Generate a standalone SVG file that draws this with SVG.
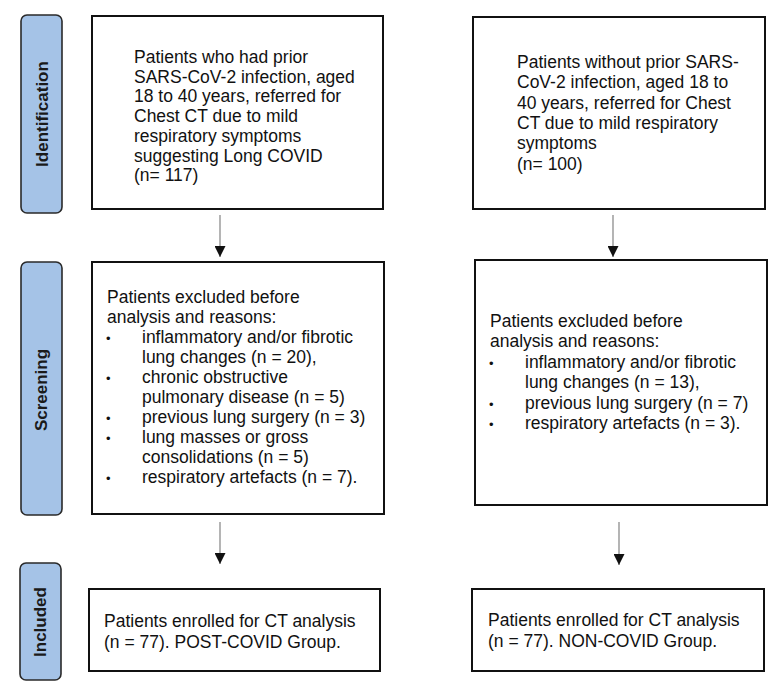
<svg xmlns="http://www.w3.org/2000/svg" width="779" height="693" viewBox="0 0 779 693">
<defs>
<style>
.tab{fill:#a5c3e7;stroke:#2a2a2a;stroke-width:1.6}
.tabt{font-family:"Liberation Sans",Arial,sans-serif;font-weight:bold;font-size:17px;fill:#1a1a1a;text-anchor:middle}
.box{fill:#fff;stroke:#111;stroke-width:2}
.t{font-family:"Liberation Sans",Arial,sans-serif;font-size:17.5px;fill:#111}
.b{font-family:"Liberation Sans",Arial,sans-serif;font-size:13px;fill:#111}
.conn{stroke:#777;stroke-width:1.1;fill:none}
</style>
<marker id="ah" markerUnits="userSpaceOnUse" markerWidth="11" markerHeight="11" refX="11" refY="5.5" orient="auto">
<path d="M0,0 L11,5.5 L0,11 z" fill="#111"/>
</marker>
</defs>
<rect width="779" height="693" fill="#fff"/>

<g id="tab-identification">
<rect class="tab" x="21" y="15" width="41" height="198" rx="6"/>
<text class="tabt" transform="translate(48,114) rotate(-90)">Identification</text>
</g>
<g id="tab-screening">
<rect class="tab" x="21" y="262" width="41" height="253" rx="6"/>
<text class="tabt" transform="translate(47,390) rotate(-90)">Screening</text>
</g>
<g id="tab-included">
<rect class="tab" x="20" y="563" width="41" height="117" rx="6"/>
<text class="tabt" transform="translate(46,622) rotate(-90)">Included</text>
</g>

<g id="box-left-1">
<rect class="box" x="92" y="16" width="291" height="193"/>
<text class="t" x="134" y="63">Patients who had prior</text>
<text class="t" x="134" y="82.7">SARS-CoV-2 infection, aged</text>
<text class="t" x="134" y="102.4">18 to 40 years, referred for</text>
<text class="t" x="134" y="122.1">Chest CT due to mild</text>
<text class="t" x="134" y="141.8">respiratory symptoms</text>
<text class="t" x="134" y="161.5">suggesting Long COVID</text>
<text class="t" x="134" y="181.2">(n= 117)</text>
</g>

<g id="box-right-1">
<rect class="box" x="473" y="17" width="292" height="192"/>
<text class="t" x="517" y="68">Patients without prior SARS-</text>
<text class="t" x="517" y="88.3">CoV-2 infection, aged 18 to</text>
<text class="t" x="517" y="108.6">40 years, referred for Chest</text>
<text class="t" x="517" y="128.9">CT due to mild respiratory</text>
<text class="t" x="517" y="149.2">symptoms</text>
<text class="t" x="517" y="169.5">(n= 100)</text>
</g>

<g id="box-left-2">
<rect class="box" x="92" y="262" width="292" height="252"/>
<text class="t" x="107" y="303">Patients excluded before</text>
<text class="t" x="107" y="323">analysis and reasons:</text>
<text class="b" x="106" y="343">•</text>
<text class="t" x="142" y="343">inflammatory and/or fibrotic</text>
<text class="t" x="142" y="363">lung changes (n = 20),</text>
<text class="b" x="106" y="383">•</text>
<text class="t" x="142" y="383">chronic obstructive</text>
<text class="t" x="142" y="403">pulmonary disease (n = 5)</text>
<text class="b" x="106" y="423">•</text>
<text class="t" x="142" y="423">previous lung surgery (n = 3)</text>
<text class="b" x="106" y="443">•</text>
<text class="t" x="142" y="443">lung masses or gross</text>
<text class="t" x="142" y="463">consolidations (n = 5)</text>
<text class="b" x="106" y="483">•</text>
<text class="t" x="142" y="483">respiratory artefacts (n = 7).</text>
</g>

<g id="box-right-2">
<rect class="box" x="475" y="260" width="292" height="245"/>
<text class="t" x="490" y="327">Patients excluded before</text>
<text class="t" x="490" y="347.4">analysis and reasons:</text>
<text class="b" x="489" y="367.8">•</text>
<text class="t" x="525" y="367.8">inflammatory and/or fibrotic</text>
<text class="t" x="525" y="388.2">lung changes (n = 13),</text>
<text class="b" x="489" y="408.6">•</text>
<text class="t" x="525" y="408.6">previous lung surgery (n = 7)</text>
<text class="b" x="489" y="429">•</text>
<text class="t" x="525" y="429">respiratory artefacts (n = 3).</text>
</g>

<g id="box-left-3">
<rect class="box" x="89" y="589" width="291" height="82"/>
<text class="t" x="104" y="627">Patients enrolled for CT analysis</text>
<text class="t" x="104" y="647.5">(n = 77). POST-COVID Group.</text>
</g>

<g id="box-right-3">
<rect class="box" x="472" y="589" width="292" height="82"/>
<text class="t" x="488" y="626">Patients enrolled for CT analysis</text>
<text class="t" x="488" y="646.5">(n = 77). NON-COVID Group.</text>
</g>

<g id="connectors">
<line class="conn" x1="220" y1="215" x2="220" y2="257" marker-end="url(#ah)"/>
<line class="conn" x1="613" y1="215" x2="613" y2="257" marker-end="url(#ah)"/>
<line class="conn" x1="220" y1="522" x2="220" y2="564" marker-end="url(#ah)"/>
<line class="conn" x1="619" y1="522" x2="619" y2="565" marker-end="url(#ah)"/>
</g>
</svg>
